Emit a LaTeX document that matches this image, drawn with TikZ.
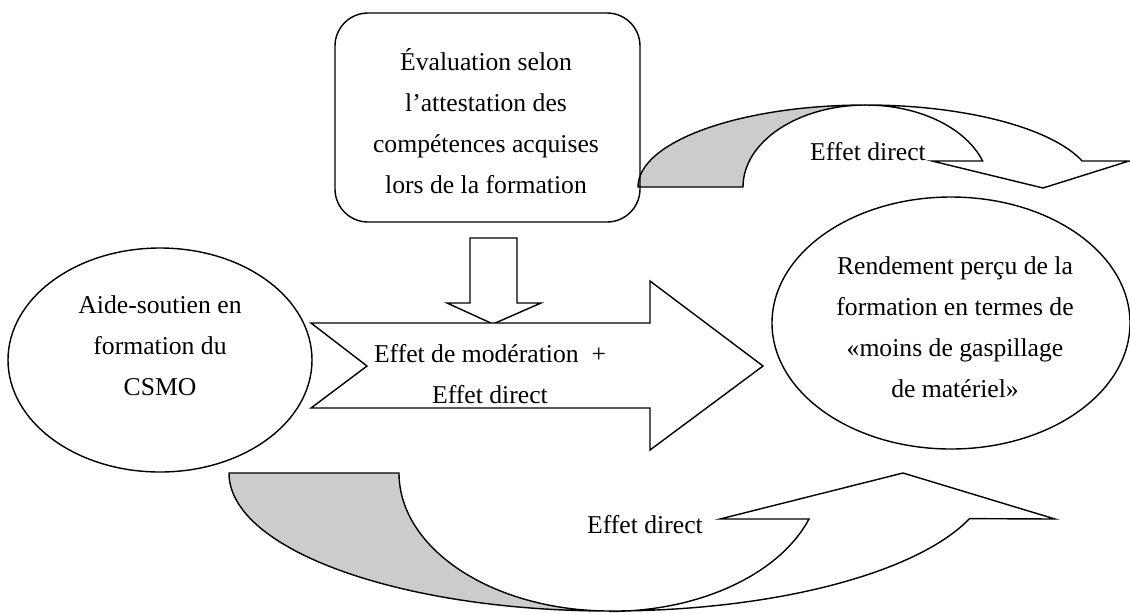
\documentclass[tikz,border=0pt]{standalone}
\usepackage{fontspec}
\setmainfont{Liberation Serif}
\usepackage{xcolor}
\usepackage{tikz}
\usetikzlibrary{shapes.geometric}

\begin{document}
\begin{tikzpicture}[scale=0.2]
		\tikzstyle{every node}+=[inner sep=0pt]
		\tikzstyle{txt}=[align=center, font=\fontsize{14.6}{23.3}\selectfont]
		\tikzstyle{oval}=[draw=black, ellipse, line width=0.8pt]
		\tikzstyle{fleche}=[draw=black, fill=white, line width=0.8pt, line join=miter]
		\tikzstyle{revers}=[draw=black, fill=gray!40, line width=0.8pt]
		\useasboundingbox (0,0) rectangle (113,-61.2);
		% curved arrow, top right
		\draw [revers] (63.8,-18.7) arc[start angle=180, end angle=90, x radius=22.8, y radius=8.2] arc[start angle=90, end angle=180, x radius=12.3, y radius=8.2] -- cycle;
		\draw [fleche] (86.6,-10.5) arc[start angle=90, end angle=18.5, x radius=22.8, y radius=8.2] -- (112.9,-16.1) -- (104.3,-18.8) -- (93.2,-16.1) -- (98.26,-16.1) arc[start angle=18.5, end angle=90, x radius=12.3, y radius=8.2] -- cycle;
		\node [txt] (haut) at (86.8,-15.2) {Effet direct};
		% curved arrow, bottom
		\draw [revers] (22.9,-47.3) arc[start angle=180, end angle=270, x radius=38.1, y radius=13.8] arc[start angle=270, end angle=180, x radius=21.1, y radius=13.8] -- cycle;
		\draw [fleche] (61,-61.1) arc[start angle=270, end angle=340.7, x radius=38.1, y radius=13.8] -- (105.5,-51.9) -- (90.3,-47.3) -- (72,-51.9) -- (80.9,-51.9) arc[start angle=340.7, end angle=270, x radius=21.1, y radius=13.8] -- cycle;
		\node [txt] (bas) at (64.5,-52.5) {Effet direct};
		% boxes
		\node [draw=black, line width=0.8pt, rounded corners=0.66cm, minimum width=6.1cm, minimum height=4.18cm] (eval) at (48.75,-11.75) {};
		\node [txt] (evaltxt) at (48.6,-12.15) {Évaluation selon\\l’attestation des\\compétences acquises\\lors de la formation};
		\node [oval, minimum width=6.08cm, minimum height=4.48cm] (aide) at (16,-36) {};
		\node [txt] (aidetxt) at (16,-34.6) {Aide-soutien en\\formation du\\CSMO};
		\node [oval, minimum width=7.16cm, minimum height=5.04cm] (rend) at (95.1,-32.3) {};
		\node [txt] (rendtxt) at (95.5,-32.7) {Rendement perçu de la\\formation en termes de\\«moins de gaspillage\\de matériel»};
		% straight arrows
		\draw [fleche] (47,-23.8) -- (51.7,-23.8) -- (51.7,-30.3) -- (54.1,-30.3) -- (49.3,-32.4) -- (44.7,-30.3) -- (47,-30.3) -- cycle;
		\draw [fleche] (31.1,-32.3) -- (65,-32.3) -- (65,-28.1) -- (76.3,-36.6) -- (65,-45) -- (65,-40.8) -- (31.1,-40.8) -- (36.7,-36.6) -- cycle;
		\node [txt] (effet) at (49,-37.4) {Effet de modération~~+\\Effet direct};
\end{tikzpicture}
\end{document}
